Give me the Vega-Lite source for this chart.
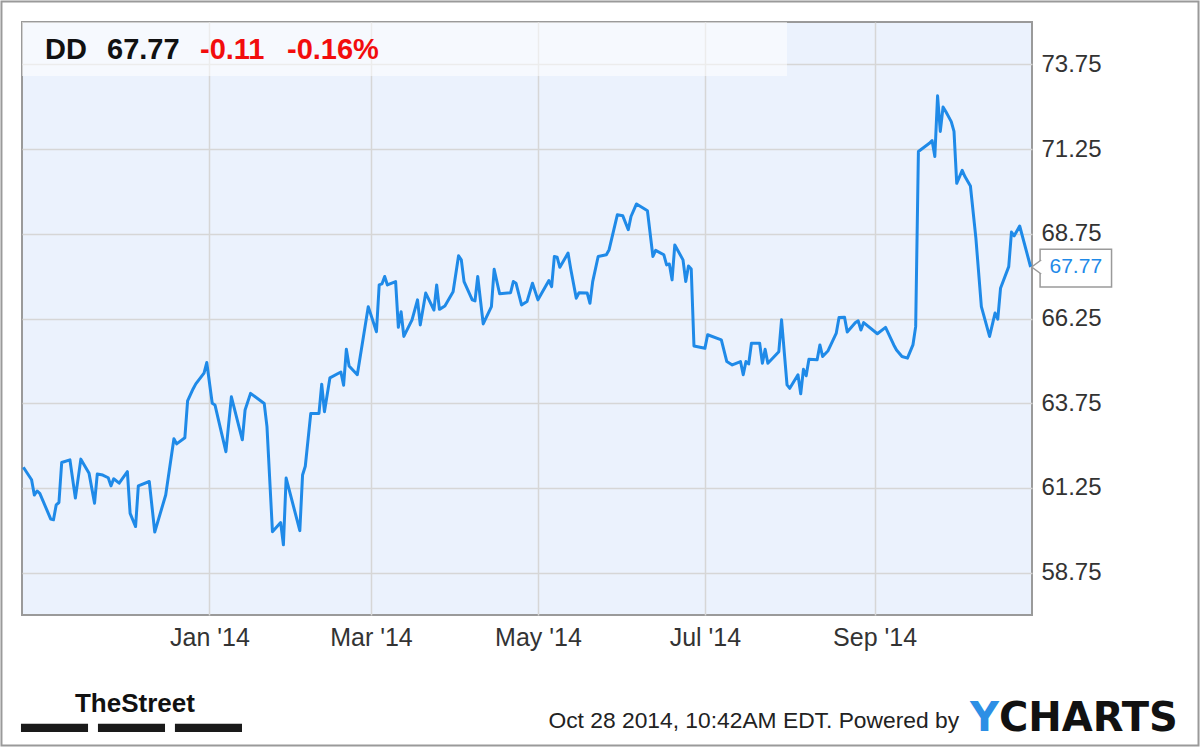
{
  "$schema": "https://vega.github.io/schema/vega-lite/v6.json",
  "width": 1010,
  "height": 593,
  "autosize": {"type": "none"},
  "padding": {"left": 22, "top": 22, "right": 168, "bottom": 132},
  "background": "#ffffff",
  "data": {"values": [{}]},
  "config": {
    "view": {"stroke": "#9a9a9a", "strokeWidth": 2, "fill": "#EBF2FD"},
    "axis": {"labelFont": "Liberation Sans", "labelColor": "#333333", "gridColor": "#d6d6d6", "gridWidth": 1.5, "ticks": false, "domain": false, "title": null}
  },
  "layer": [
    {
      "mark": {"type": "rect", "fill": "#ffffff", "opacity": 0.55},
      "encoding": {
        "x": {"datum": {"year": 2013, "month": "Oct", "date": 24, "hours": 12, "utc": true}, "type": "temporal"},
        "x2": {"datum": {"year": 2014, "month": "Jul", "date": 31, "utc": true}},
        "y": {"datum": 75.0, "type": "quantitative"},
        "y2": {"datum": 73.41}
      }
    },
    {
      "data": {"values": [
        {"date": "2013-10-25", "price": 61.86},
        {"date": "2013-10-28", "price": 61.49},
        {"date": "2013-10-29", "price": 61.04},
        {"date": "2013-10-30", "price": 61.16},
        {"date": "2013-10-31", "price": 61.09},
        {"date": "2013-11-04", "price": 60.33},
        {"date": "2013-11-05", "price": 60.31},
        {"date": "2013-11-06", "price": 60.75},
        {"date": "2013-11-07", "price": 60.82},
        {"date": "2013-11-08", "price": 62.00},
        {"date": "2013-11-11", "price": 62.08},
        {"date": "2013-11-13", "price": 60.95},
        {"date": "2013-11-15", "price": 62.10},
        {"date": "2013-11-18", "price": 61.68},
        {"date": "2013-11-20", "price": 60.80},
        {"date": "2013-11-21", "price": 61.66},
        {"date": "2013-11-23", "price": 61.63},
        {"date": "2013-11-25", "price": 61.55},
        {"date": "2013-11-26", "price": 61.31},
        {"date": "2013-11-27", "price": 61.52},
        {"date": "2013-11-29", "price": 61.39},
        {"date": "2013-12-02", "price": 61.73},
        {"date": "2013-12-03", "price": 60.50},
        {"date": "2013-12-05", "price": 60.11},
        {"date": "2013-12-06", "price": 61.31},
        {"date": "2013-12-10", "price": 61.44},
        {"date": "2013-12-12", "price": 59.95},
        {"date": "2013-12-16", "price": 61.04},
        {"date": "2013-12-19", "price": 62.70},
        {"date": "2013-12-20", "price": 62.55},
        {"date": "2013-12-23", "price": 62.73},
        {"date": "2013-12-24", "price": 63.82},
        {"date": "2013-12-26", "price": 64.17},
        {"date": "2013-12-27", "price": 64.32},
        {"date": "2013-12-30", "price": 64.64},
        {"date": "2013-12-31", "price": 64.95},
        {"date": "2014-01-02", "price": 63.75},
        {"date": "2014-01-03", "price": 63.70},
        {"date": "2014-01-05", "price": 63.01},
        {"date": "2014-01-07", "price": 62.32},
        {"date": "2014-01-09", "price": 63.94},
        {"date": "2014-01-13", "price": 62.67},
        {"date": "2014-01-14", "price": 63.55},
        {"date": "2014-01-16", "price": 64.04},
        {"date": "2014-01-21", "price": 63.74},
        {"date": "2014-01-22", "price": 63.06},
        {"date": "2014-01-24", "price": 59.96},
        {"date": "2014-01-27", "price": 60.23},
        {"date": "2014-01-28", "price": 59.57},
        {"date": "2014-01-29", "price": 61.54},
        {"date": "2014-02-03", "price": 59.99},
        {"date": "2014-02-04", "price": 61.63},
        {"date": "2014-02-05", "price": 61.89},
        {"date": "2014-02-07", "price": 63.45},
        {"date": "2014-02-10", "price": 63.45},
        {"date": "2014-02-11", "price": 64.31},
        {"date": "2014-02-12", "price": 63.50},
        {"date": "2014-02-14", "price": 64.50},
        {"date": "2014-02-18", "price": 64.67},
        {"date": "2014-02-19", "price": 64.28},
        {"date": "2014-02-20", "price": 65.34},
        {"date": "2014-02-21", "price": 64.85},
        {"date": "2014-02-24", "price": 64.59},
        {"date": "2014-02-28", "price": 66.60},
        {"date": "2014-03-03", "price": 65.86},
        {"date": "2014-03-04", "price": 67.24},
        {"date": "2014-03-05", "price": 67.27},
        {"date": "2014-03-06", "price": 67.49},
        {"date": "2014-03-07", "price": 67.24},
        {"date": "2014-03-10", "price": 67.34},
        {"date": "2014-03-11", "price": 65.99},
        {"date": "2014-03-12", "price": 66.45},
        {"date": "2014-03-13", "price": 65.72},
        {"date": "2014-03-16", "price": 66.21},
        {"date": "2014-03-18", "price": 66.80},
        {"date": "2014-03-19", "price": 66.06},
        {"date": "2014-03-21", "price": 67.00},
        {"date": "2014-03-24", "price": 66.50},
        {"date": "2014-03-25", "price": 67.24},
        {"date": "2014-03-26", "price": 66.52},
        {"date": "2014-03-28", "price": 66.62},
        {"date": "2014-03-31", "price": 67.04},
        {"date": "2014-04-02", "price": 68.10},
        {"date": "2014-04-03", "price": 67.98},
        {"date": "2014-04-04", "price": 67.34},
        {"date": "2014-04-07", "price": 66.80},
        {"date": "2014-04-08", "price": 66.77},
        {"date": "2014-04-09", "price": 67.49},
        {"date": "2014-04-11", "price": 66.09},
        {"date": "2014-04-14", "price": 66.60},
        {"date": "2014-04-15", "price": 67.70},
        {"date": "2014-04-17", "price": 66.98},
        {"date": "2014-04-21", "price": 67.01},
        {"date": "2014-04-22", "price": 67.34},
        {"date": "2014-04-23", "price": 67.29},
        {"date": "2014-04-25", "price": 66.65},
        {"date": "2014-04-27", "price": 66.75},
        {"date": "2014-04-29", "price": 67.29},
        {"date": "2014-05-01", "price": 66.80},
        {"date": "2014-05-05", "price": 67.37},
        {"date": "2014-05-06", "price": 67.19},
        {"date": "2014-05-07", "price": 68.08},
        {"date": "2014-05-08", "price": 68.06},
        {"date": "2014-05-09", "price": 67.76},
        {"date": "2014-05-12", "price": 68.18},
        {"date": "2014-05-13", "price": 67.70},
        {"date": "2014-05-15", "price": 66.85},
        {"date": "2014-05-16", "price": 67.01},
        {"date": "2014-05-19", "price": 67.00},
        {"date": "2014-05-20", "price": 66.70},
        {"date": "2014-05-21", "price": 67.34},
        {"date": "2014-05-23", "price": 68.08},
        {"date": "2014-05-26", "price": 68.13},
        {"date": "2014-05-27", "price": 68.28},
        {"date": "2014-05-30", "price": 69.31},
        {"date": "2014-06-01", "price": 69.28},
        {"date": "2014-06-03", "price": 68.87},
        {"date": "2014-06-04", "price": 69.26},
        {"date": "2014-06-06", "price": 69.63},
        {"date": "2014-06-09", "price": 69.48},
        {"date": "2014-06-10", "price": 69.43},
        {"date": "2014-06-12", "price": 68.08},
        {"date": "2014-06-13", "price": 68.26},
        {"date": "2014-06-16", "price": 68.13},
        {"date": "2014-06-17", "price": 67.83},
        {"date": "2014-06-18", "price": 67.86},
        {"date": "2014-06-19", "price": 67.39},
        {"date": "2014-06-20", "price": 68.42},
        {"date": "2014-06-23", "price": 67.98},
        {"date": "2014-06-24", "price": 67.34},
        {"date": "2014-06-25", "price": 67.80},
        {"date": "2014-06-26", "price": 67.71},
        {"date": "2014-06-27", "price": 65.44},
        {"date": "2014-07-01", "price": 65.37},
        {"date": "2014-07-02", "price": 65.77},
        {"date": "2014-07-07", "price": 65.62},
        {"date": "2014-07-09", "price": 64.98},
        {"date": "2014-07-11", "price": 64.88},
        {"date": "2014-07-14", "price": 64.98},
        {"date": "2014-07-15", "price": 64.59},
        {"date": "2014-07-16", "price": 64.98},
        {"date": "2014-07-17", "price": 64.91},
        {"date": "2014-07-18", "price": 65.52},
        {"date": "2014-07-21", "price": 65.52},
        {"date": "2014-07-22", "price": 64.93},
        {"date": "2014-07-23", "price": 65.34},
        {"date": "2014-07-24", "price": 64.93},
        {"date": "2014-07-28", "price": 65.27},
        {"date": "2014-07-29", "price": 66.21},
        {"date": "2014-07-31", "price": 64.29},
        {"date": "2014-08-01", "price": 64.19},
        {"date": "2014-08-04", "price": 64.59},
        {"date": "2014-08-05", "price": 64.03},
        {"date": "2014-08-06", "price": 64.75},
        {"date": "2014-08-07", "price": 64.56},
        {"date": "2014-08-08", "price": 65.05},
        {"date": "2014-08-11", "price": 65.03},
        {"date": "2014-08-12", "price": 65.47},
        {"date": "2014-08-13", "price": 65.13},
        {"date": "2014-08-15", "price": 65.30},
        {"date": "2014-08-18", "price": 65.82},
        {"date": "2014-08-19", "price": 66.28},
        {"date": "2014-08-21", "price": 66.29},
        {"date": "2014-08-22", "price": 65.85},
        {"date": "2014-08-25", "price": 66.13},
        {"date": "2014-08-26", "price": 66.18},
        {"date": "2014-08-27", "price": 65.91},
        {"date": "2014-08-28", "price": 66.13},
        {"date": "2014-09-02", "price": 65.80},
        {"date": "2014-09-05", "price": 65.99},
        {"date": "2014-09-08", "price": 65.47},
        {"date": "2014-09-09", "price": 65.32},
        {"date": "2014-09-11", "price": 65.13},
        {"date": "2014-09-13", "price": 65.08},
        {"date": "2014-09-15", "price": 65.47},
        {"date": "2014-09-16", "price": 66.01},
        {"date": "2014-09-17", "price": 71.18},
        {"date": "2014-09-21", "price": 71.42},
        {"date": "2014-09-22", "price": 71.50},
        {"date": "2014-09-23", "price": 71.03},
        {"date": "2014-09-24", "price": 72.82},
        {"date": "2014-09-25", "price": 71.77},
        {"date": "2014-09-26", "price": 72.49},
        {"date": "2014-09-27", "price": 72.36},
        {"date": "2014-09-29", "price": 72.06},
        {"date": "2014-09-30", "price": 71.77},
        {"date": "2014-10-01", "price": 70.24},
        {"date": "2014-10-03", "price": 70.62},
        {"date": "2014-10-04", "price": 70.44},
        {"date": "2014-10-06", "price": 70.16},
        {"date": "2014-10-08", "price": 68.62},
        {"date": "2014-10-10", "price": 66.60},
        {"date": "2014-10-13", "price": 65.72},
        {"date": "2014-10-15", "price": 66.41},
        {"date": "2014-10-16", "price": 66.23},
        {"date": "2014-10-17", "price": 67.14},
        {"date": "2014-10-20", "price": 67.78},
        {"date": "2014-10-21", "price": 68.80},
        {"date": "2014-10-22", "price": 68.69},
        {"date": "2014-10-24", "price": 68.98},
        {"date": "2014-10-28", "price": 67.77}
      ]},
      "mark": {"type": "line", "color": "#1f8ae8", "strokeWidth": 3, "strokeJoin": "round"},
      "encoding": {
        "x": {
          "field": "date", "type": "temporal",
          "scale": {"type": "utc", "domain": [
            {"year": 2013, "month": "Oct", "date": 24, "hours": 12, "utc": true},
            {"year": 2014, "month": "Oct", "date": 28, "hours": 12, "utc": true}
          ], "nice": false},
          "axis": {
            "values": [
              {"year": 2014, "month": "Jan", "date": 1, "utc": true},
              {"year": 2014, "month": "Mar", "date": 1, "utc": true},
              {"year": 2014, "month": "May", "date": 1, "utc": true},
              {"year": 2014, "month": "Jul", "date": 1, "utc": true},
              {"year": 2014, "month": "Sep", "date": 1, "utc": true}
            ],
            "labelExpr": "utcFormat(datum.value, \"%b '%y\")",
            "labelFontSize": 25, "labelPadding": 10, "grid": true, "labelAngle": 0
          }
        },
        "y": {
          "field": "price", "type": "quantitative",
          "scale": {"domain": [57.5, 75.0], "zero": false, "nice": false},
          "axis": {
            "orient": "right",
            "values": [58.75, 61.25, 63.75, 66.25, 68.75, 71.25, 73.75],
            "format": ".2f", "labelFontSize": 24, "labelPadding": 9, "grid": true, "labelBaseline": "middle"
          }
        }
      }
    },
    {
      "mark": {"type": "text", "text": "DD", "font": "Liberation Sans", "fontWeight": "bold", "fontSize": 29, "color": "#111111", "align": "left", "baseline": "alphabetic"},
      "encoding": {
        "x": {"datum": {"year": 2013, "month": "Nov", "date": 1, "hours": 21, "minutes": 40, "utc": true}, "type": "temporal"},
        "y": {"datum": 73.91, "type": "quantitative"}
      }
    },
    {
      "mark": {"type": "text", "text": "67.77", "font": "Liberation Sans", "fontWeight": "bold", "fontSize": 29, "color": "#111111", "align": "left", "baseline": "alphabetic"},
      "encoding": {
        "x": {"datum": {"year": 2013, "month": "Nov", "date": 24, "hours": 13, "minutes": 26, "utc": true}, "type": "temporal"},
        "y": {"datum": 73.91, "type": "quantitative"}
      }
    },
    {
      "mark": {"type": "text", "text": "-0.11", "font": "Liberation Sans", "fontWeight": "bold", "fontSize": 29, "color": "#f20d0d", "align": "left", "baseline": "alphabetic"},
      "encoding": {
        "x": {"datum": {"year": 2013, "month": "Dec", "date": 28, "hours": 12, "minutes": 43, "utc": true}, "type": "temporal"},
        "y": {"datum": 73.91, "type": "quantitative"}
      }
    },
    {
      "mark": {"type": "text", "text": "-0.16%", "font": "Liberation Sans", "fontWeight": "bold", "fontSize": 29, "color": "#f20d0d", "align": "left", "baseline": "alphabetic"},
      "encoding": {
        "x": {"datum": {"year": 2014, "month": "Jan", "date": 29, "hours": 7, "minutes": 40, "utc": true}, "type": "temporal"},
        "y": {"datum": 73.91, "type": "quantitative"}
      }
    },
    {
      "mark": {"type": "rect", "fill": "#ffffff", "stroke": "#9a9a9a", "strokeWidth": 1.5},
      "encoding": {
        "x": {"datum": {"year": 2014, "month": "Oct", "date": 31, "hours": 11, "utc": true}, "type": "temporal"},
        "x2": {"datum": {"year": 2014, "month": "Nov", "date": 26, "hours": 13, "minutes": 30, "utc": true}},
        "y": {"datum": 68.29, "type": "quantitative"},
        "y2": {"datum": 67.18}
      }
    },
    {
      "mark": {"type": "point", "shape": "M-0.05,-0.7L-1,0L-0.05,0.7", "size": 400, "fill": "#ffffff", "fillOpacity": 1, "stroke": "#9a9a9a", "strokeWidth": 1.5, "strokeOpacity": 1, "opacity": 1},
      "encoding": {
        "x": {"datum": {"year": 2014, "month": "Nov", "date": 1, "hours": 1, "utc": true}, "type": "temporal"},
        "y": {"datum": 67.77, "type": "quantitative"}
      }
    },
    {
      "mark": {"type": "text", "text": "67.77", "font": "Liberation Sans", "fontSize": 21, "color": "#1f8ae8", "align": "center", "baseline": "middle"},
      "encoding": {
        "x": {"datum": {"year": 2014, "month": "Nov", "date": 13, "hours": 12, "utc": true}, "type": "temporal"},
        "y": {"datum": 67.77, "type": "quantitative"}
      }
    },
    {
      "mark": {"type": "text", "text": "TheStreet", "font": "Liberation Sans", "fontWeight": "bold", "fontSize": 26, "color": "#111111", "align": "left", "baseline": "alphabetic"},
      "encoding": {
        "x": {"datum": {"year": 2013, "month": "Nov", "date": 12, "hours": 20, "minutes": 38, "utc": true}, "type": "temporal"},
        "y": {"datum": 54.64, "type": "quantitative"}
      }
    },
    {
      "mark": {"type": "rect", "fill": "#1a1a1a"},
      "encoding": {
        "x": {"datum": {"year": 2013, "month": "Oct", "date": 24, "hours": 3, "utc": true}, "type": "temporal"},
        "x2": {"datum": {"year": 2013, "month": "Nov", "date": 17, "hours": 15, "utc": true}},
        "y": {"datum": 54.29, "type": "quantitative"},
        "y2": {"datum": 54.05}
      }
    },
    {
      "mark": {"type": "rect", "fill": "#1a1a1a"},
      "encoding": {
        "x": {"datum": {"year": 2013, "month": "Nov", "date": 21, "hours": 6, "utc": true}, "type": "temporal"},
        "x2": {"datum": {"year": 2013, "month": "Dec", "date": 15, "hours": 18, "utc": true}},
        "y": {"datum": 54.29, "type": "quantitative"},
        "y2": {"datum": 54.05}
      }
    },
    {
      "mark": {"type": "rect", "fill": "#1a1a1a"},
      "encoding": {
        "x": {"datum": {"year": 2013, "month": "Dec", "date": 19, "hours": 9, "utc": true}, "type": "temporal"},
        "x2": {"datum": {"year": 2014, "month": "Jan", "date": 12, "hours": 21, "utc": true}},
        "y": {"datum": 54.29, "type": "quantitative"},
        "y2": {"datum": 54.05}
      }
    },
    {
      "mark": {"type": "text", "text": "Oct 28 2014, 10:42AM EDT. Powered by", "font": "Liberation Sans", "fontSize": 22.8, "color": "#222222", "align": "right", "baseline": "alphabetic"},
      "encoding": {
        "x": {"datum": {"year": 2014, "month": "Oct", "date": 1, "hours": 20, "minutes": 24, "utc": true}, "type": "temporal"},
        "y": {"datum": 54.17, "type": "quantitative"}
      }
    },
    {
      "mark": {"type": "text", "text": "Y", "font": "DejaVu Sans", "fontWeight": "bold", "fontSize": 40, "color": "#2d8fe5", "align": "left", "baseline": "alphabetic"},
      "encoding": {
        "x": {"datum": {"year": 2014, "month": "Oct", "date": 5, "hours": 20, "minutes": 38, "utc": true}, "type": "temporal"},
        "y": {"datum": 54.08, "type": "quantitative"}
      }
    },
    {
      "mark": {"type": "text", "text": "CHARTS", "font": "DejaVu Sans", "fontWeight": "bold", "fontSize": 40, "color": "#111111", "align": "left", "baseline": "alphabetic"},
      "encoding": {
        "x": {"datum": {"year": 2014, "month": "Oct", "date": 16, "hours": 10, "minutes": 48, "utc": true}, "type": "temporal"},
        "y": {"datum": 54.08, "type": "quantitative"}
      }
    },
    {
      "mark": {"type": "rect", "fillOpacity": 0, "stroke": "#9a9a9a", "strokeWidth": 2},
      "encoding": {
        "x": {"datum": {"year": 2013, "month": "Oct", "date": 17, "utc": true}, "type": "temporal"},
        "x2": {"datum": {"year": 2014, "month": "Dec", "date": 28, "hours": 8, "utc": true}},
        "y": {"datum": 75.605, "type": "quantitative"},
        "y2": {"datum": 53.652}
      }
    }
  ]
}
